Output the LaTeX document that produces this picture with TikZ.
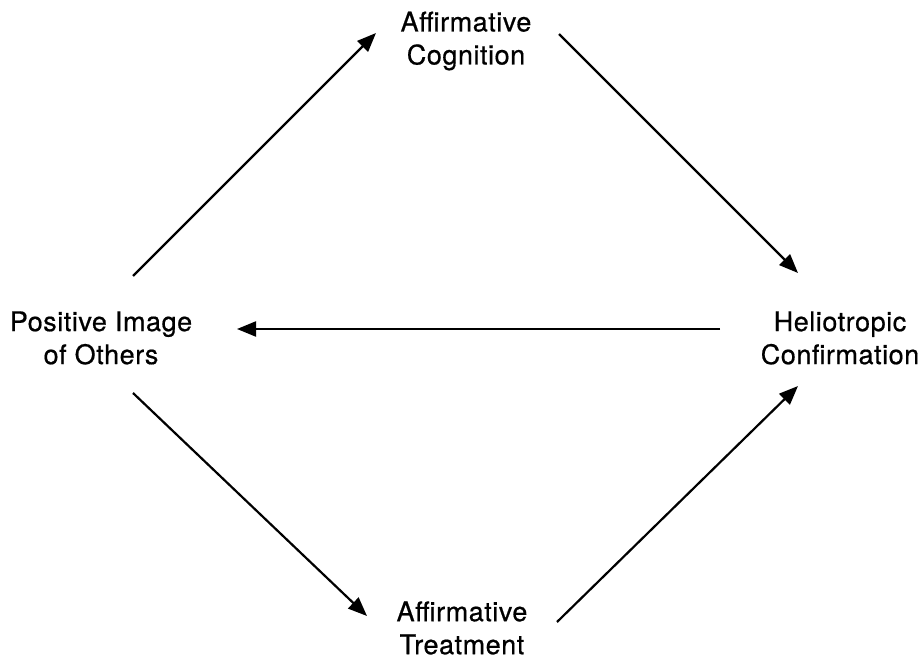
\documentclass[tikz,border=0pt]{standalone}
\usepackage{fontspec}
\setmainfont{TeX Gyre Heros}[LetterSpace=2,FakeBold=0.6]
\usetikzlibrary{arrows.meta}
\begin{document}
\begin{tikzpicture}[x=1pt,y=-1pt,
  lbl/.style={align=center,font=\fontsize{27}{33}\selectfont,inner sep=0pt},
  conn/.style={line width=2.2pt,-{Triangle[length=19pt,width=15pt]}}]
\useasboundingbox (0,0) rectangle (921,660);
\node[lbl] (cog) at (466,41) {Affirmative\\Cognition};
\node[lbl] (pos) at (101,338) {Positive Image\\of Others};
\node[lbl] (hel) at (840,338) {Heliotropic\\Confirmation};
\node[lbl] (tre) at (462,628) {Affirmative\\Treatment};
\coordinate (p1) at (133,276);
\coordinate (c1) at (376,33);
\coordinate (c2) at (559,34);
\coordinate (h1) at (798,273);
\coordinate (h2) at (720,329);
\coordinate (p2) at (237,329);
\coordinate (p3) at (133,393);
\coordinate (t1) at (367,616);
\coordinate (t2) at (557,622);
\coordinate (h3) at (798,386);
\draw[conn] (p1) -- (c1);
\draw[conn] (c2) -- (h1);
\draw[conn] (h2) -- (p2);
\draw[conn] (p3) -- (t1);
\draw[conn] (t2) -- (h3);
\end{tikzpicture}
\end{document}
